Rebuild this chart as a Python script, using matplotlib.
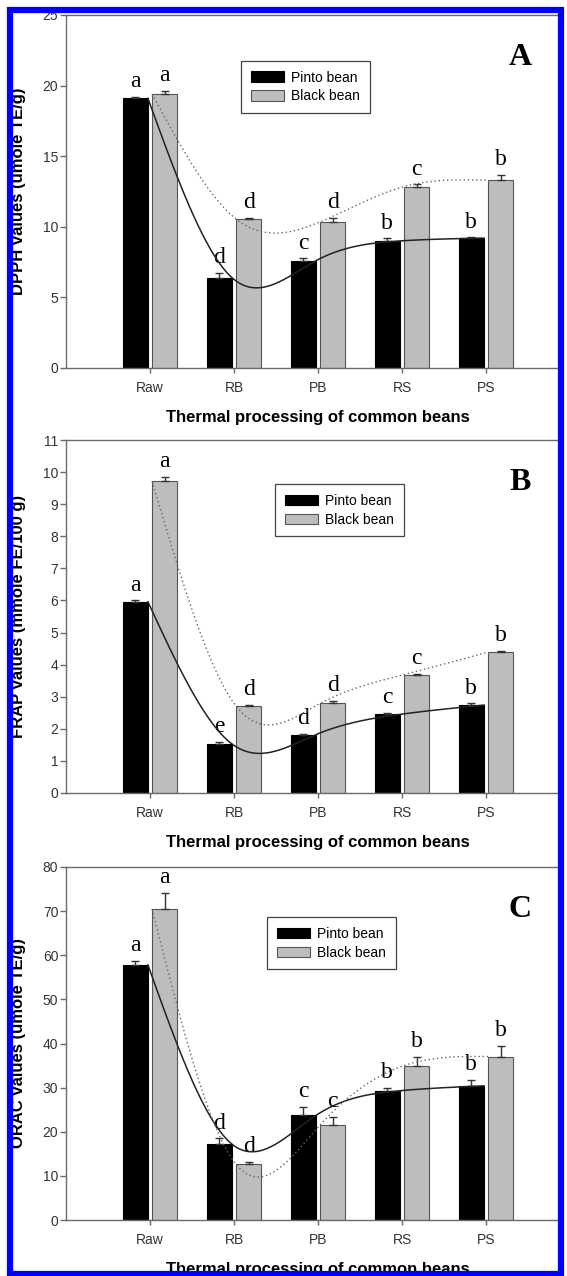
import numpy as np
import matplotlib
matplotlib.use("Agg")
import matplotlib.pyplot as plt
from matplotlib.patches import Rectangle

# ---- data ----
categories = ['Raw', 'RB', 'PB', 'RS', 'PS']

dpph_pinto = [19.1, 6.4, 7.6, 9.0, 9.2]
dpph_pinto_err = [0.08, 0.35, 0.16, 0.18, 0.06]
dpph_black = [19.4, 10.55, 10.35, 12.85, 13.3]
dpph_black_err = [0.22, 0.08, 0.3, 0.16, 0.4]
dpph_pinto_lett = ['a', 'd', 'c', 'b', 'b']
dpph_black_lett = ['a', 'd', 'd', 'c', 'b']

frap_pinto = [5.96, 1.53, 1.82, 2.45, 2.74]
frap_pinto_err = [0.04, 0.06, 0.03, 0.05, 0.05]
frap_black = [9.72, 2.71, 2.79, 3.69, 4.39]
frap_black_err = [0.14, 0.03, 0.07, 0.02, 0.04]
frap_pinto_lett = ['a', 'e', 'd', 'c', 'b']
frap_black_lett = ['a', 'd', 'd', 'c', 'b']

orac_pinto = [57.8, 17.2, 23.7, 29.3, 30.4]
orac_pinto_err = [0.9, 1.3, 2.0, 0.7, 1.4]
orac_black = [70.5, 12.6, 21.55, 35.0, 37.05]
orac_black_err = [3.6, 0.6, 1.9, 2.0, 2.4]
orac_pinto_lett = ['a', 'd', 'c', 'b', 'b']
orac_black_lett = ['a', 'd', 'c', 'b', 'b']

xlabel = 'Thermal processing of common beans'


def natural_cubic(xk, yk, num=300):
    # smooth curve through the bar tops (SigmaPlot-style spline)
    xk = np.asarray(xk, float)
    yk = np.asarray(yk, float)
    n = len(xk)
    h = np.diff(xk)
    A = np.zeros((n, n))
    rhs = np.zeros(n)
    A[0, 0] = A[-1, -1] = 1
    for i in range(1, n - 1):
        A[i, i - 1] = h[i - 1]
        A[i, i] = 2 * (h[i - 1] + h[i])
        A[i, i + 1] = h[i]
        rhs[i] = 6 * ((yk[i + 1] - yk[i]) / h[i] - (yk[i] - yk[i - 1]) / h[i - 1])
    M = np.linalg.solve(A, rhs)
    xs = np.linspace(xk[0], xk[-1], num)
    idx = np.clip(np.searchsorted(xk, xs) - 1, 0, n - 2)
    x0, x1 = xk[idx], xk[idx + 1]
    hh = x1 - x0
    a = (x1 - xs) / hh
    b = (xs - x0) / hh
    ys = a * yk[idx] + b * yk[idx + 1] + ((a**3 - a) * M[idx] + (b**3 - b) * M[idx + 1]) * hh**2 / 6
    return xs, ys


W, H = 567, 1276
fig = plt.figure(figsize=(W / 100, H / 100), dpi=100)

spine_col = '#6a6a6a'
grey_bar = '#bdbdbd'
bw = 0.3
off = 0.175

panels = [
    dict(top=15, bottom=368, ymax=25, step=5, pinto=dpph_pinto, perr=dpph_pinto_err,
         black=dpph_black, berr=dpph_black_err, pl=dpph_pinto_lett, bl=dpph_black_lett,
         ylabel='DPPH values (umole TE/g)', tag='A', leg=(0.355, 0.870)),
    dict(top=440, bottom=793, ymax=11, step=1, pinto=frap_pinto, perr=frap_pinto_err,
         black=frap_black, berr=frap_black_err, pl=frap_pinto_lett, bl=frap_black_lett,
         ylabel='FRAP values (mmole FE/100 g)', tag='B', leg=(0.423, 0.875)),
    dict(top=867, bottom=1220, ymax=80, step=10, pinto=orac_pinto, perr=orac_pinto_err,
         black=orac_black, berr=orac_black_err, pl=orac_pinto_lett, bl=orac_black_lett,
         ylabel='ORAC values (umole TE/g)', tag='C', leg=(0.407, 0.858)),
]

x = np.arange(1, len(categories) + 1)
left_px, right_px = 66, 560

for p in panels:
    ax = fig.add_axes([left_px / W, 1 - p['bottom'] / H,
                       (right_px - left_px) / W, (p['bottom'] - p['top']) / H])
    zeros = np.zeros(len(x))
    ax.bar(x - off, p['pinto'], bw, color='black', edgecolor='black', lw=0.8,
           label='Pinto bean', zorder=2)
    ax.bar(x + off, p['black'], bw, color=grey_bar, edgecolor='#555555', lw=0.8,
           label='Black bean', zorder=2)
    ax.errorbar(x - off, p['pinto'], yerr=[zeros, p['perr']], fmt='none',
                ecolor='#333333', elinewidth=1, capsize=3, capthick=1, zorder=3)
    ax.errorbar(x + off, p['black'], yerr=[zeros, p['berr']], fmt='none',
                ecolor='#333333', elinewidth=1, capsize=3, capthick=1, zorder=3)

    xs, ys = natural_cubic(x - 0.025, p['pinto'])
    ax.plot(xs, ys, color='#222222', lw=1.1, zorder=4)
    xs, ys = natural_cubic(x + 0.025, p['black'])
    ax.plot(xs, ys, color='#666666', lw=1.0, ls=(0, (1, 2)), zorder=4)

    for xi, v, e, t in zip(x - off, p['pinto'], p['perr'], p['pl']):
        ax.annotate(t, (xi, v + e), xytext=(0, 7), textcoords='offset points',
                    ha='center', va='baseline', fontsize=17, family='Liberation Serif')
    for xi, v, e, t in zip(x + off, p['black'], p['berr'], p['bl']):
        ax.annotate(t, (xi, v + e), xytext=(0, 7), textcoords='offset points',
                    ha='center', va='baseline', fontsize=17, family='Liberation Serif')

    ax.text(0.92, 0.88, p['tag'], transform=ax.transAxes, ha='center', va='center',
            fontsize=23, fontweight='bold', family='Liberation Serif')

    ax.set_xlim(0, (right_px - left_px) / 84)
    ax.set_ylim(0, p['ymax'])
    ax.set_yticks(np.arange(0, p['ymax'] + 0.01, p['step']))
    ax.set_xticks(x)
    ax.set_xticklabels(categories)
    for s in ax.spines.values():
        s.set_color(spine_col)
        s.set_linewidth(1)
    ax.tick_params(axis='both', colors=spine_col, labelcolor='#333333',
                   labelsize=10, width=1)
    ax.tick_params(axis='y', length=4, pad=1.5)
    ax.tick_params(axis='x', length=3.5, pad=6)
    for lab in ax.get_xticklabels() + ax.get_yticklabels():
        lab.set_family('Liberation Sans')

    ax.set_xlabel(xlabel, fontsize=12, fontweight='bold', family='Liberation Sans')
    ax.xaxis.set_label_coords(3 / ((right_px - left_px) / 84), -0.12)
    ax.set_ylabel(p['ylabel'], fontsize=12, fontweight='bold', family='Liberation Sans')
    ax.yaxis.set_label_coords(-0.08, 0.5)

    leg = ax.legend(loc='upper left', bbox_to_anchor=p['leg'], borderaxespad=0,
                    fancybox=False, framealpha=1, edgecolor='#444444',
                    prop={'family': 'Liberation Sans', 'size': 10},
                    handlelength=2.4, handleheight=0.8, handletextpad=0.5,
                    labelspacing=0.35, borderpad=0.7)
    leg.get_frame().set_linewidth(0.9)

# blue frame around the figure
fig.patches.append(Rectangle((10 / W, 2 / H), 551 / W, 1 - 12 / H, transform=fig.transFigure,
                             fill=False, edgecolor='#0000ff', lw=4.5, zorder=10))

fig.savefig('out.png', dpi=100)
